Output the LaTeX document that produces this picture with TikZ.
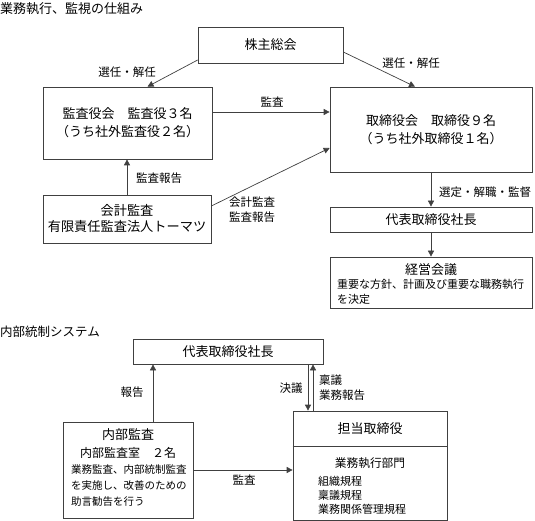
\documentclass[tikz,border=0pt]{standalone}
\usepackage{fontspec}
\setmainfont{Noto Sans CJK JP}
\usetikzlibrary{arrows.meta}

\begin{document}
\begin{tikzpicture}[x=1pt, y=-1pt,
    box/.style={draw=black!75, line width=0.7pt, inner sep=0pt, align=center},
    big/.style={font=\fontsize{13}{17.5}\selectfont},
    lbl/.style={font=\fontsize{11.5}{15}\selectfont, inner sep=0pt, align=left},
    small/.style={font=\fontsize{10.5}{15.5}\selectfont, inner sep=0pt, align=left},
    link/.style={draw=black!75, line width=0.7pt, -{Triangle[length=6pt,width=6pt]}}]
  \useasboundingbox (0,0) rectangle (535,521);
  % Upper part
  \node[big, inner sep=0pt, anchor=west] (title1) at (0,9) {業務執行、監視の仕組み};
  \node[box, big, minimum width=145pt, minimum height=36pt] (sh) at (270.5,45) {株主総会};
  \node[box, big, minimum width=169pt, minimum height=72pt, font=\fontsize{13}{18}\selectfont] (kansa) at (127.5,123)
      {監査役会　監査役３名\\（うち社外監査役２名）};
  \node[box, big, minimum width=202pt, minimum height=85pt, font=\fontsize{13}{18}\selectfont] (tori) at (431,129.5)
      {取締役会　取締役９名\\（うち社外取締役１名）};
  \node[box, minimum width=168pt, minimum height=48pt, font=\fontsize{13.2}{16}\selectfont] (kaikei) at (127,219)
      {会計監査\\有限責任監査法人トーマツ};
  \node[box, big, minimum width=202pt, minimum height=25pt] (daihyo) at (431,219.5) {代表取締役社長};
  \node[box, minimum width=202pt, minimum height=51pt] (keiei) at (431,282.5) {};
  \node[big, inner sep=0pt] (keieiT) at (431,270) {経営会議};
  \node[small, anchor=west, font=\fontsize{11}{15}\selectfont] (keieiD) at (337,291.5)
      {重要な方針、計画及び重要な職務執行\\を決定};
  % Upper arrows
  \draw[link] ([yshift=-15pt]sh.west) -- ([xshift=20pt]kansa.north);
  \draw[link] ([yshift=-7pt]sh.east) -- ([xshift=-16pt]tori.north);
  \draw[link] ([yshift=11pt]kansa.east) coordinate (k1) -- (k1 -| tori.west);
  \draw[link] (kaikei.north) -- (kaikei.north |- kansa.south);
  \draw[link] ([yshift=13pt]kaikei.east) -- ([yshift=-18.5pt]tori.west);
  \draw[link] (tori.south) -- (daihyo.north);
  \draw[link] (daihyo.south) -- (keiei.north);
  % Upper labels
  \node[lbl] (l1) at (127,72) {選任・解任};
  \node[lbl] (l2) at (411,63) {選任・解任};
  \node[lbl] (l3) at (272,102) {監査};
  \node[lbl] (l4) at (159,178) {監査報告};
  \node[lbl] (l5) at (252,209.5) {会計監査\\監査報告};
  \node[lbl] (l6) at (485,192) {選定・解職・監督};
  % Lower part
  \node[inner sep=0pt, anchor=west, font=\fontsize{12.5}{15}\selectfont] (title2) at (0,332) {内部統制システム};
  \node[box, big, minimum width=190pt, minimum height=25pt] (daihyo2) at (228,351.5) {代表取締役社長};
  \node[box, minimum width=130pt, minimum height=96pt] (naibu) at (128,470) {};
  \node[big, inner sep=0pt] (naibuT) at (128,435) {内部監査};
  \node[inner sep=0pt, font=\fontsize{12}{15}\selectfont] (naibuS) at (128,453) {内部監査室　２名};
  \node[small, anchor=west, font=\fontsize{10.5}{16}\selectfont] (naibuD) at (71,486)
      {業務監査、内部統制監査\\を実施し、改善のための\\助言勧告を行う};
  \node[box, minimum width=154pt, minimum height=109pt] (tanto) at (370,465.5) {};
  \draw[draw=black!75, line width=0.7pt] ([yshift=-36pt]tanto.north west) -- ([yshift=-36pt]tanto.north east);
  \node[big, inner sep=0pt] (tantoT) at (370,429) {担当取締役};
  \node[inner sep=0pt, font=\fontsize{11.7}{15}\selectfont] (tantoS) at (370,463) {業務執行部門};
  \node[small, anchor=west, font=\fontsize{11}{14}\selectfont] (tantoD) at (318,495)
      {組織規程\\稟議規程\\業務関係管理規程};
  % Lower arrows
  \draw[link] ([xshift=25pt]naibu.north) coordinate (n1) -- (n1 |- daihyo2.south);
  \draw[link] ([xshift=80pt]daihyo2.south) coordinate (d1) -- (d1 |- tanto.north);
  \draw[link] ([xshift=-57pt]tanto.north) coordinate (t1) -- (t1 |- daihyo2.south);
  \draw[link] (naibu.east) -- (naibu.east -| tanto.west);
  % Lower labels
  \node[lbl] (m1) at (132,392) {報告};
  \node[lbl] (m2) at (291,388) {決議};
  \node[lbl, anchor=west] (m3) at (319,387.5) {稟議\\業務報告};
  \node[lbl] (m4) at (244,480) {監査};
\end{tikzpicture}
\end{document}
